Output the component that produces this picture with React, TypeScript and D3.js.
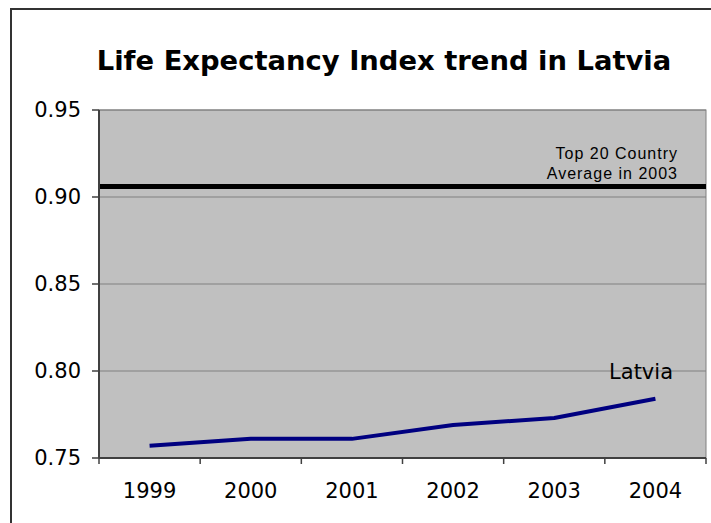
import React from "react";
import * as d3 from "d3";

const years = ["1999", "2000", "2001", "2002", "2003", "2004"];
const latvia = [0.757, 0.761, 0.761, 0.769, 0.773, 0.784];
const top20Average = 0.906;
const yTicks = [0.75, 0.8, 0.85, 0.9, 0.95];
const title = "Life Expectancy Index trend in Latvia";
const seriesLabel = "Latvia";
const refLabel = ["Top 20 Country", "Average in 2003"];

const W = 711;
const H = 523;
const plot = { left: 99, right: 706, top: 110, bottom: 458 };

export default function App() {
  const x = d3.scaleBand<string>().domain(years).range([plot.left, plot.right]);
  const y = d3.scaleLinear().domain([0.75, 0.95]).range([plot.bottom, plot.top]);
  const cx = (d: string) => (x(d) as number) + x.bandwidth() / 2;
  const line = d3
    .line<number>()
    .x((_, i) => cx(years[i]))
    .y((v) => y(v));
  const font = "Verdana, 'DejaVu Sans', sans-serif";
  const tickEdges = [...years.map((d) => x(d) as number), plot.right];

  return (
    <svg
      width={W}
      height={H}
      style={{ position: "absolute", left: 0, top: 0, display: "block" }}
    >
      <rect x={0} y={0} width={W} height={H} fill="#fff" />
      <rect x={11} y={9} width={W + 20} height={H + 20} fill="#fff" stroke="#333" strokeWidth={2} />
      <text
        x={384}
        y={70}
        textAnchor="middle"
        fontFamily={font}
        fontWeight="bold"
        fontSize={27.4}
        fill="#000"
      >
        {title}
      </text>
      <rect
        x={plot.left}
        y={plot.top}
        width={plot.right - plot.left}
        height={plot.bottom - plot.top}
        fill="#C0C0C0"
        stroke="#808080"
        strokeWidth={1}
      />
      {yTicks.slice(1).map((t) => (
        <line
          key={"g" + t}
          x1={plot.left}
          x2={plot.right}
          y1={y(t)}
          y2={y(t)}
          stroke="#808080"
          strokeWidth={1}
        />
      ))}
      <line
        x1={plot.left}
        x2={plot.right}
        y1={y(top20Average)}
        y2={y(top20Average)}
        stroke="#000"
        strokeWidth={5}
      />
      <path d={line(latvia) || ""} fill="none" stroke="#000080" strokeWidth={4} strokeLinejoin="round" />
      <line x1={plot.left} x2={plot.left} y1={plot.top} y2={plot.bottom} stroke="#404040" strokeWidth={2} />
      <line x1={plot.left} x2={plot.right} y1={plot.bottom} y2={plot.bottom} stroke="#404040" strokeWidth={2} />
      {yTicks.map((t) => (
        <g key={"y" + t}>
          <line x1={plot.left - 7} x2={plot.left} y1={y(t)} y2={y(t)} stroke="#404040" strokeWidth={1.5} />
          <text
            x={81}
            y={y(t)}
            dy="0.35em"
            textAnchor="end"
            fontFamily={font}
            fontSize={21}
            fill="#000"
          >
            {t.toFixed(2)}
          </text>
        </g>
      ))}
      {tickEdges.map((e, i) => (
        <line key={"xt" + i} x1={e} x2={e} y1={plot.bottom} y2={plot.bottom + 6} stroke="#404040" strokeWidth={1.5} />
      ))}
      {years.map((d) => (
        <text
          key={"xl" + d}
          x={cx(d)}
          y={498}
          textAnchor="middle"
          fontFamily={font}
          fontSize={21}
          fill="#000"
        >
          {d}
        </text>
      ))}
      <text x={673} y={379} textAnchor="end" fontFamily={font} fontSize={21} fill="#000">
        {seriesLabel}
      </text>
      {refLabel.map((s, i) => (
        <text
          key={s}
          x={678}
          y={159 + i * 19.5}
          textAnchor="end"
          fontFamily="Arial, 'Liberation Sans', sans-serif"
          fontSize={16}
          letterSpacing={1}
          fill="#000"
        >
          {s}
        </text>
      ))}
    </svg>
  );
}
